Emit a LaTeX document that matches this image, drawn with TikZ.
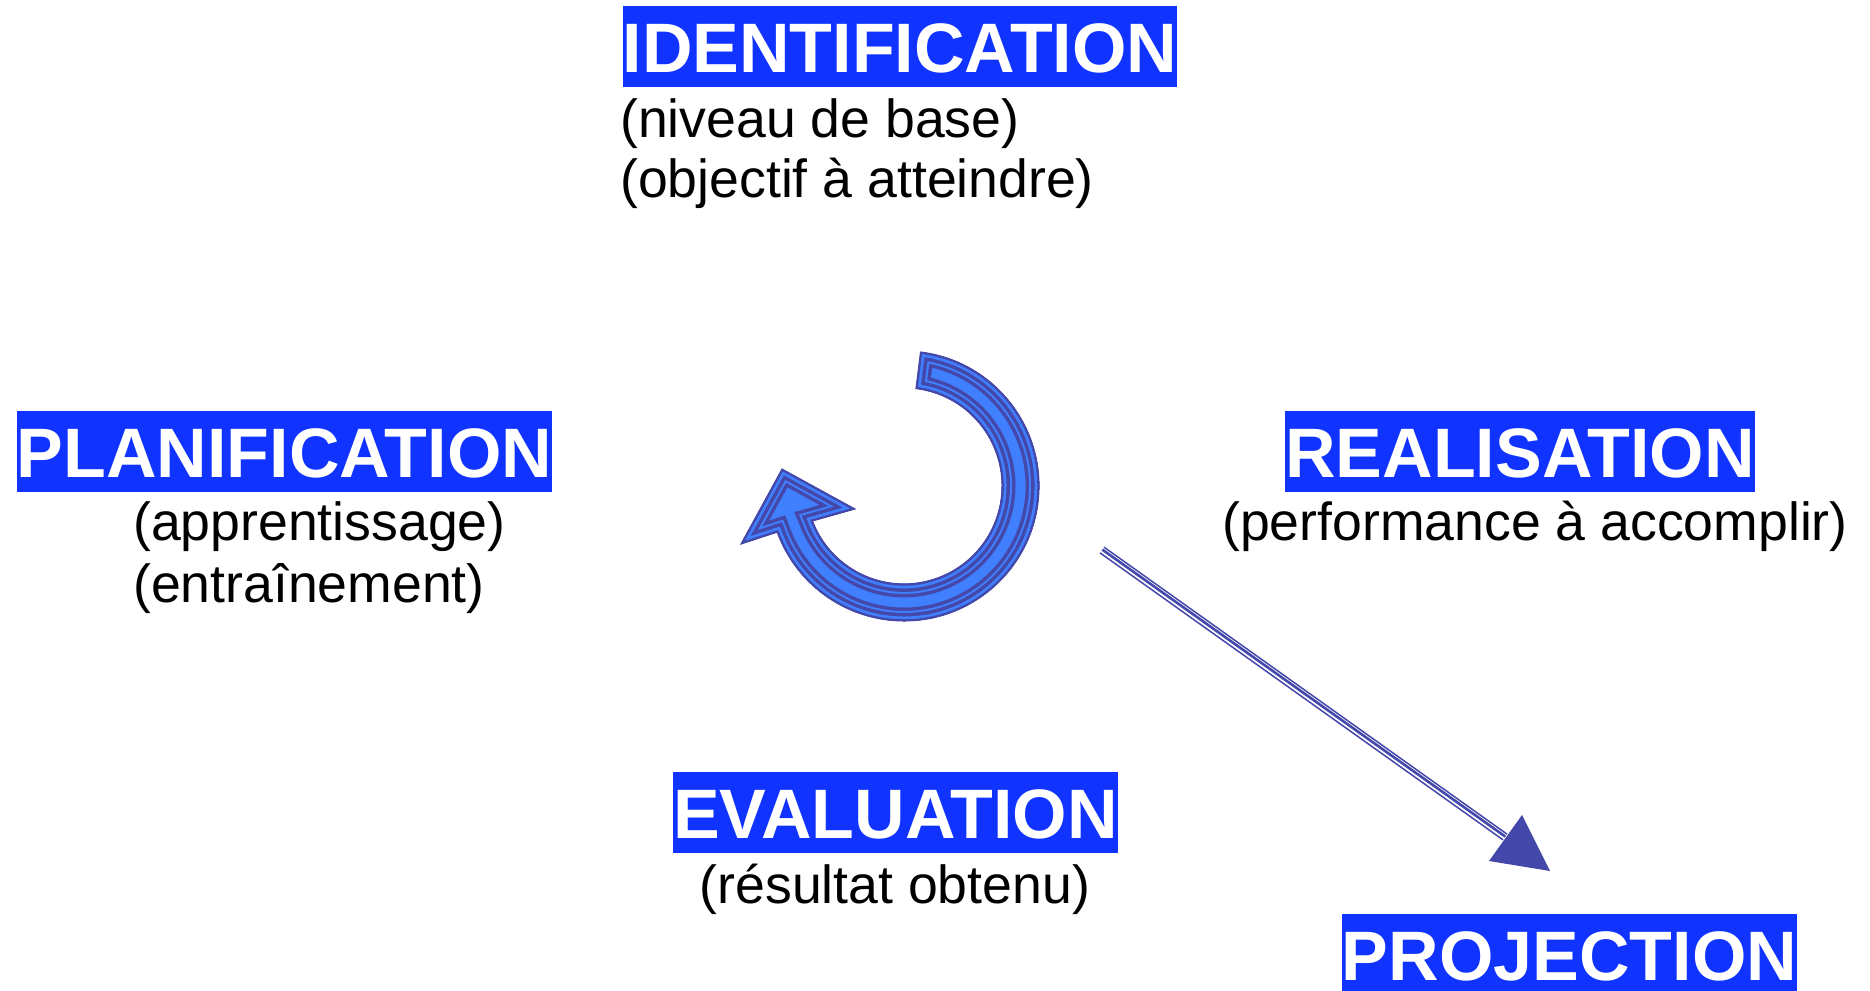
\documentclass[tikz,border=0pt]{standalone}
\usepackage{fontspec}
\setmainfont{Liberation Sans}
\usetikzlibrary{calc}
\definecolor{titleblue}{RGB}{16,51,255}
\definecolor{arrowdark}{RGB}{68,72,170}
\definecolor{arrowlight}{RGB}{64,128,255}
\newcommand{\cycarrow}{(920.5,352) arc[start angle=-83, end angle=160, radius=135] -- (741,544) -- (782,469) -- (855,509) -- (812.5,521) arc[start angle=159, end angle=-83, radius=98] -- cycle}
\tikzset{
  titlebox/.style={fill=titleblue, text=white, font=\fontsize{70}{84}\selectfont\bfseries,
    inner xsep=0pt, inner ysep=0pt, text height=66pt, text depth=15pt, anchor=base},
  subtext/.style={font=\fontsize{53.6}{64}\selectfont, inner sep=0pt, anchor=base west, text=black},
  band/.style={line join=miter, miter limit=20},
}
\begin{document}
\begin{tikzpicture}[x=1pt,y=-1pt]
\useasboundingbox[fill=white] (0,0) rectangle (1870,990);

% titles and texts
\node[titlebox] (ident) at (900,72) {IDENTIFICATION};
\node[subtext] (ident1) at (620,137) {(niveau de base)};
\node[subtext] (ident2) at (620,197) {(objectif à atteindre)};

\node[titlebox] (plan) at (284.5,477) {PLANIFICATION};
\node[subtext] (plan1) at (133,540) {(apprentissage)};
\node[subtext] (plan2) at (133,602) {(entraînement)};

\node[titlebox] (real) at (1520,477) {REALISATION};
\node[subtext] (real1) at (1222,540) {(performance à accomplir)};

\node[titlebox] (eval) at (895.5,838) {EVALUATION};
\node[subtext] (eval1) at (699.5,903) {(résultat obtenu)};

\node[titlebox] (proj) at (1569.5,980) {PROJECTION};

% circular arrow
\begin{scope}
  \clip \cycarrow;
  \fill[arrowlight] \cycarrow;
  \draw[arrowdark, band, line width=27pt] \cycarrow;
  \draw[arrowlight, band, line width=20pt] \cycarrow;
  \draw[arrowdark, band, line width=16pt] \cycarrow;
  \draw[arrowlight, band, line width=9pt] \cycarrow;
  \draw[arrowdark, band, line width=3.6pt] \cycarrow;
\end{scope}
\draw[arrowdark, band, line width=1pt] \cycarrow;

% straight arrow towards PROJECTION
\coordinate (rs) at (1102,550);
\coordinate (re) at (1505,837);
\coordinate (rt) at (1550,871);
\draw[arrowdark, line width=1.5pt] ($(rs)+(2.0,-2.85)$) -- ($(re)+(2.0,-2.85)$);
\draw[arrowdark, line width=2.6pt] ($(rs)+(0.3,-0.4)$) -- ($(re)+(0.3,-0.4)$);
\draw[arrowdark, line width=1.5pt] ($(rs)+(-2.0,2.85)$) -- ($(re)+(-2.0,2.85)$);
\fill[arrowdark] (rt) -- (1522,815) -- (1489,861) -- cycle;
\end{tikzpicture}
\end{document}
